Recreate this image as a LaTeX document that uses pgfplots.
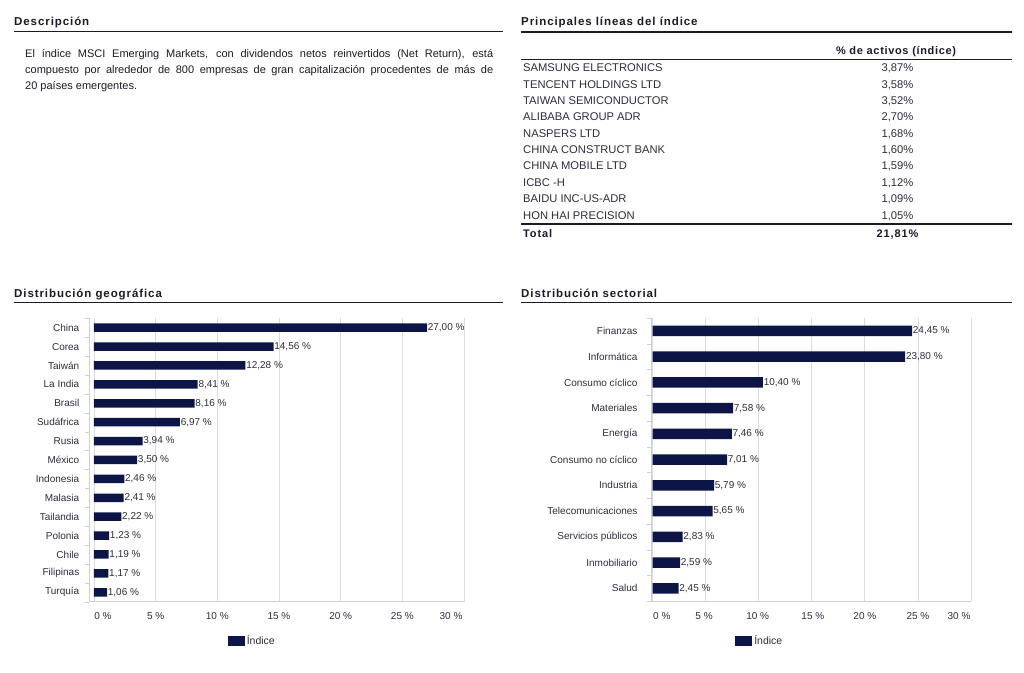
\documentclass[border=0pt]{standalone}
\usepackage{pgfplots}
\pgfplotsset{compat=1.18}
\usepackage{fontspec}
\setmainfont{Liberation Sans}

\definecolor{barcol}{HTML}{0D1547}
\definecolor{txt}{HTML}{2B2D3E}
\definecolor{ttl}{HTML}{1A1A28}
\definecolor{gridc}{HTML}{DCDCDC}
\definecolor{axisc}{HTML}{D0D0D0}

\newcommand{\ttlfont}{\fontsize{11.5}{13}\selectfont\bfseries\addfontfeatures{LetterSpace=8}}
\newcommand{\tblfont}{\fontsize{11.2}{12}\selectfont}
\newcommand{\chfont}{\fontsize{10}{12}\selectfont}

\pgfplotsset{
  barchart/.style={
    scale only axis,
    xbar, xmin=0, xmax=30,
    axis lines*=left,
    axis line style={draw=axisc, line width=0.8pt},
    xtick={0,5,...,30}, xticklabels={},
    xmajorgrids, major grid style={draw=gridc, line width=0.8pt},
    major tick length=0pt, minor tick length=4pt, tick align=outside,
    tick style={draw=axisc},
    ytick=data,
    yticklabel style={font=\chfont, text=txt},
    xticklabel style={font=\chfont, text=txt, yshift=-7.5pt},
    extra x tick style={grid=none},
    /pgf/number format/assume math mode=true,
    point meta=x,
    nodes near coords={\pgfmathprintnumber[fixed,fixed zerofill,precision=2,use comma]{\pgfplotspointmeta} \%},
    every node near coord/.append style={font=\chfont, text=txt, inner sep=0.6pt},
    legend image code/.code={\fill[barcol] (0pt,-5pt) rectangle (17pt,5pt);},
    legend style={draw=none, fill=none, font=\fontsize{10.5}{12}\selectfont, text=txt, anchor=center},
  }
}

\begin{document}
\begin{tikzpicture}
\useasboundingbox (0pt,0pt) rectangle (1024pt,-672pt);

\begin{scope}[x=1pt, y=-1pt]
% Descripción
\node[anchor=base west, font=\ttlfont, text=ttl, inner sep=0pt] at (14,25) {Descripción};
\draw[ttl, line width=1.8pt] (14,31.5) -- (503,31.5);
\node[anchor=north west, text width=468pt, align=justify, inner sep=0pt,
      font=\fontsize{11}{16}\selectfont, text=ttl] at (25,49.5)
  {El índice MSCI Emerging Markets, con dividendos netos reinvertidos (Net Return), está\linebreak
   compuesto por alrededor de 800 empresas de gran capitalización procedentes de más de\linebreak
   20 países emergentes.};

% Principales líneas del índice
\node[anchor=base west, font=\ttlfont, text=ttl, inner sep=0pt] at (521,25) {Principales líneas del índice};
\draw[ttl, line width=1.8pt] (521,32) -- (1012,32);
\node[anchor=base, font=\fontsize{11}{12}\selectfont\bfseries\addfontfeatures{LetterSpace=6}, text=ttl, inner sep=0pt] at (896,54.5) {\% de activos (índice)};
\draw[ttl, line width=1.8pt] (521,59.5) -- (1012,59.5);
\begin{scope}[every node/.style={font=\tblfont, text=txt, inner sep=0pt}]
\node[anchor=base west] at (523,71.7) {SAMSUNG ELECTRONICS};   \node[anchor=base east] at (913.5,71.7) {3,87\%};
\node[anchor=base west] at (523,88.1) {TENCENT HOLDINGS LTD};  \node[anchor=base east] at (913.5,88.1) {3,58\%};
\node[anchor=base west] at (523,104.4) {TAIWAN SEMICONDUCTOR}; \node[anchor=base east] at (913.5,104.4) {3,52\%};
\node[anchor=base west] at (523,120.8) {ALIBABA GROUP ADR};    \node[anchor=base east] at (913.5,120.8) {2,70\%};
\node[anchor=base west] at (523,137.2) {NASPERS LTD};          \node[anchor=base east] at (913.5,137.2) {1,68\%};
\node[anchor=base west] at (523,153.5) {CHINA CONSTRUCT BANK}; \node[anchor=base east] at (913.5,153.5) {1,60\%};
\node[anchor=base west] at (523,169.9) {CHINA MOBILE LTD};     \node[anchor=base east] at (913.5,169.9) {1,59\%};
\node[anchor=base west] at (523,186.3) {ICBC -H};              \node[anchor=base east] at (913.5,186.3) {1,12\%};
\node[anchor=base west] at (523,202.7) {BAIDU INC-US-ADR};     \node[anchor=base east] at (913.5,202.7) {1,09\%};
\node[anchor=base west] at (523,219.0) {HON HAI PRECISION};    \node[anchor=base east] at (913.5,219.0) {1,05\%};
\end{scope}
\draw[ttl, line width=1.8pt] (521,224) -- (1012,224);
\node[anchor=base west, font=\fontsize{11}{12}\selectfont\bfseries\addfontfeatures{LetterSpace=8}, text=ttl, inner sep=0pt] at (523,237) {Total};
\node[anchor=base east, font=\fontsize{11}{12}\selectfont\bfseries\addfontfeatures{LetterSpace=8}, text=ttl, inner sep=0pt] at (918.5,237) {21,81\%};

% chart titles
\node[anchor=base west, font=\ttlfont, text=ttl, inner sep=0pt] at (14,297) {Distribución geográfica};
\draw[ttl, line width=1.8pt] (14,302.5) -- (503,302.5);
\node[anchor=base west, font=\ttlfont, text=ttl, inner sep=0pt] at (521,297) {Distribución sectorial};
\draw[ttl, line width=1.8pt] (521,302.5) -- (1012,302.5);
\end{scope}

% Distribución geográfica
\begin{axis}[barchart,
  at={(89.3pt,-601.7pt)}, anchor=south west,
  width=374.7pt, height=283.5pt,
  xmin=-0.38, bar width=8.5pt,
  ymin=-0.5, ymax=14.5,
  yticklabels={Turquía,Filipinas,Chile,Polonia,Tailandia,Malasia,Indonesia,México,Rusia,Sudáfrica,Brasil,La India,Taiwán,Corea,China},
  yticklabel style={xshift=-6.5pt},
  minor ytick={-0.5,0.5,...,14.5},
  extra x ticks={0.73,5,10,15,20,25,28.95},
  extra x tick labels={0 \%,5 \%,10 \%,15 \%,20 \%,25 \%,30 \%},
  legend style={at={(0.435,-0.139)}},
]
\addplot[fill=barcol, draw=none] coordinates {
  (1.06,0) (1.17,1) (1.19,2) (1.23,3) (2.22,4) (2.41,5) (2.46,6) (3.50,7)
  (3.94,8) (6.97,9) (8.16,10) (8.41,11) (12.28,12) (14.56,13) (27.00,14)
};
\legend{Índice}
\end{axis}

% Distribución sectorial
\begin{axis}[barchart,
  at={(651pt,-601.2pt)}, anchor=south west,
  width=320pt, height=283.1pt,
  xmin=-0.15, bar width=10.5pt,
  ymin=-0.5, ymax=10.5,
  yticklabels={Salud,Inmobiliario,Servicios públicos,Telecomunicaciones,Industria,Consumo no cíclico,Energía,Materiales,Consumo cíclico,Informática,Finanzas},
  yticklabel style={xshift=-10pt},
  minor ytick={-0.5,0.5,...,10.5},
  extra x ticks={0.87,4.85,9.9,15.1,20,25,28.87},
  extra x tick labels={0 \%,5 \%,10 \%,15 \%,20 \%,25 \%,30 \%},
  legend style={at={(0.34,-0.1406)}},
]
\addplot[fill=barcol, draw=none] coordinates {
  (2.45,0) (2.59,1) (2.83,2) (5.65,3) (5.79,4) (7.01,5) (7.46,6) (7.58,7)
  (10.40,8) (23.80,9) (24.45,10)
};
\legend{Índice}
\end{axis}
\end{tikzpicture}
\end{document}
